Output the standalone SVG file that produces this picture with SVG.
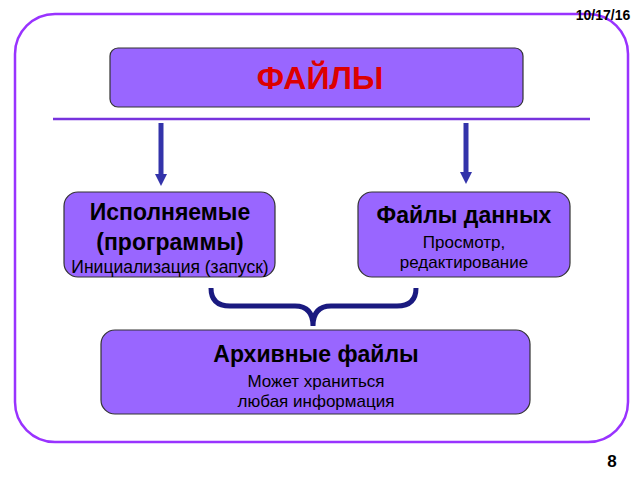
<svg xmlns="http://www.w3.org/2000/svg" width="640" height="480" viewBox="0 0 640 480">
<style>
.box{fill:#9966ff;stroke:#333;stroke-width:1.2}
text{font-family:"Liberation Sans",Arial,sans-serif;text-anchor:middle;fill:#000}
.b{font-weight:bold}
</style>
<defs><marker id="ah" markerWidth="12" markerHeight="12" refX="2" refY="6" orient="auto" markerUnits="userSpaceOnUse" viewBox="0 0 12 12"><path d="M0,0 L12,6 L0,12 Z" fill="#3333aa"/></marker></defs>
<rect width="640" height="480" fill="#fff"/>
<rect x="15" y="14" width="613" height="428" rx="40" fill="none" stroke="#9933ff" stroke-width="2.5"/>
<text x="603" y="20" class="b" font-size="14">10/17/16</text>
<text x="612" y="467" class="b" font-size="17">8</text>
<g id="n-files"><rect class="box" x="110" y="48" width="413" height="59" rx="8"/><text x="320" y="89" class="b" font-size="32" style="fill:#dd0000">ФАЙЛЫ</text></g>
<line x1="53" y1="119" x2="590" y2="119" stroke="#7733dd" stroke-width="2.5"/>
<g id="connectors">
<line x1="161" y1="123" x2="161" y2="176" stroke="#3333aa" stroke-width="5" marker-end="url(#ah)"/>
<line x1="466" y1="123" x2="466" y2="174" stroke="#3333aa" stroke-width="5" marker-end="url(#ah)"/>
<path d="M211,288 Q211,306 230,306 L295,306 Q313,306 313,326 Q313,306 331,306 L397,306 Q416,306 416,288" fill="none" stroke="#1a1a80" stroke-width="5"/>
</g>
<g id="n-exec"><rect class="box" x="64" y="192" width="211" height="85" rx="14"/>
<text x="170" y="220" class="b" font-size="23">Исполняемые</text>
<text x="170" y="250" class="b" font-size="23">(программы)</text>
<text x="170" y="273" font-size="17.5">Инициализация (запуск)</text></g>
<g id="n-data"><rect class="box" x="358" y="192" width="212" height="85" rx="14"/>
<text x="464" y="223" class="b" font-size="23">Файлы данных</text>
<text x="464" y="248" font-size="17">Просмотр,</text>
<text x="464" y="268" font-size="17">редактирование</text></g>
<g id="n-arch"><rect class="box" x="101" y="330" width="429" height="84" rx="14"/>
<text x="316" y="362" class="b" font-size="23">Архивные файлы</text>
<text x="316" y="387" font-size="17">Может храниться</text>
<text x="316" y="407" font-size="17">любая информация</text></g>
</svg>
